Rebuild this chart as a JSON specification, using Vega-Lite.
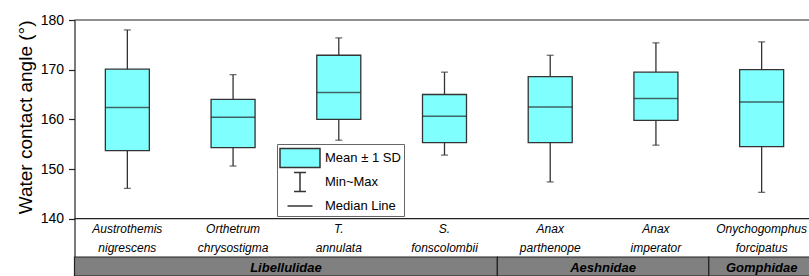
{
  "$schema": "https://vega.github.io/schema/vega-lite/v6.json",
  "autosize": {"type": "none"},
  "padding": {"left": 74.5, "top": 20, "right": 0, "bottom": 0},
  "width": 735,
  "height": 256,
  "background": "white",
  "config": {"font": "Liberation Sans", "view": {"stroke": null}},
  "datasets": {
    "boxes": [
      {"species": "Austrothemis nigrescens", "min": 146.1, "sd_low": 153.7, "median": 162.4, "sd_high": 170.1, "max": 178.0},
      {"species": "Orthetrum chrysostigma", "min": 150.6, "sd_low": 154.3, "median": 160.4, "sd_high": 164.0, "max": 169.0},
      {"species": "T. annulata", "min": 155.8, "sd_low": 160.0, "median": 165.4, "sd_high": 172.9, "max": 176.4},
      {"species": "S. fonscolombii", "min": 152.8, "sd_low": 155.3, "median": 160.6, "sd_high": 165.0, "max": 169.5},
      {"species": "Anax parthenope", "min": 147.4, "sd_low": 155.3, "median": 162.5, "sd_high": 168.6, "max": 172.9},
      {"species": "Anax imperator", "min": 154.8, "sd_low": 159.8, "median": 164.2, "sd_high": 169.5, "max": 175.4},
      {"species": "Onychogomphus forcipatus", "min": 145.3, "sd_low": 154.5, "median": 163.5, "sd_high": 170.0, "max": 175.6}
    ],
    "families": [
      {"family": "Libellulidae", "first": "Austrothemis nigrescens", "last": "S. fonscolombii"},
      {"family": "Aeshnidae", "first": "Anax parthenope", "last": "Anax imperator"},
      {"family": "Gomphidae", "first": "Onychogomphus forcipatus", "last": "Onychogomphus forcipatus"}
    ]
  },
  "layer": [
    {
      "data": {"name": "boxes"},
      "mark": {"type": "rule", "stroke": "#333", "strokeWidth": 1.3},
      "encoding": {
        "x": {
          "field": "species", "type": "nominal",
          "scale": {
            "domain": ["Austrothemis nigrescens", "Orthetrum chrysostigma", "T. annulata", "S. fonscolombii", "Anax parthenope", "Anax imperator", "Onychogomphus forcipatus"],
            "range": [0, 740], "paddingInner": 0, "paddingOuter": 0
          },
          "axis": null
        },
        "y": {
          "field": "min", "type": "quantitative",
          "scale": {"domain": [128.46, 180], "nice": false, "zero": false},
          "axis": {
            "title": "Water contact angle (°)",
            "values": [140, 145, 150, 155, 160, 165, 170, 175, 180],
            "labelExpr": "datum.value % 10 === 0 ? datum.label : ''",
            "tickSize": {"condition": {"test": "datum.value % 10 !== 0", "value": 3}, "value": 6},
            "grid": false,
            "domainColor": "#222",
            "domainWidth": 1.2,
            "tickColor": "#222",
            "tickWidth": 1.2,
            "labelFontSize": 14,
            "labelColor": "#000",
            "labelPadding": 5,
            "titleFontSize": 19,
            "titleFontWeight": "normal",
            "titleColor": "#000",
            "titleAnchor": "end",
            "titlePadding": 5
          }
        },
        "y2": {"field": "max"}
      }
    },
    {
      "data": {"name": "boxes"},
      "mark": {"type": "tick", "color": "#333", "size": 7, "thickness": 1.3},
      "encoding": {
        "x": {"field": "species", "type": "nominal"},
        "y": {"field": "max", "type": "quantitative"}
      }
    },
    {
      "data": {"name": "boxes"},
      "mark": {"type": "tick", "color": "#333", "size": 7, "thickness": 1.3},
      "encoding": {
        "x": {"field": "species", "type": "nominal"},
        "y": {"field": "min", "type": "quantitative"}
      }
    },
    {
      "data": {"name": "boxes"},
      "mark": {"type": "bar", "size": 44, "fill": "#80FFFF", "stroke": "#333", "strokeWidth": 1.3},
      "encoding": {
        "x": {"field": "species", "type": "nominal"},
        "y": {"field": "sd_low", "type": "quantitative"},
        "y2": {"field": "sd_high"}
      }
    },
    {
      "data": {"name": "boxes"},
      "mark": {"type": "tick", "color": "#222", "size": 44, "thickness": 1.5},
      "encoding": {
        "x": {"field": "species", "type": "nominal"},
        "y": {"field": "median", "type": "quantitative"}
      }
    },
    {
      "data": {"name": "boxes"},
      "mark": {"type": "text", "fontSize": 12, "fontStyle": "italic", "color": "#000", "baseline": "middle", "align": "center", "lineBreak": " ", "lineHeight": 19},
      "encoding": {
        "x": {"field": "species", "type": "nominal"},
        "y": {"datum": 137.93},
        "text": {"field": "species"}
      }
    },
    {
      "data": {"values": [{}]},
      "mark": {"type": "rule", "stroke": "#222", "strokeWidth": 1.2},
      "encoding": {"y": {"datum": 180}}
    },
    {
      "data": {"values": [{}]},
      "mark": {"type": "rule", "stroke": "#222", "strokeWidth": 1.2},
      "encoding": {"y": {"datum": 140}}
    },
    {
      "data": {"name": "families"},
      "mark": {"type": "rect", "fill": "#808080", "stroke": "#222", "strokeWidth": 1.2},
      "encoding": {
        "x": {"field": "first", "type": "nominal", "bandPosition": 0},
        "x2": {"field": "last", "bandPosition": 1},
        "y": {"datum": 132.29},
        "y2": {"datum": 128.46}
      }
    },
    {
      "data": {"name": "families"},
      "transform": [{"filter": "datum.family === 'Libellulidae'"}],
      "mark": {"type": "text", "fontSize": 13, "fontStyle": "italic", "fontWeight": "bold", "color": "#000", "baseline": "middle", "align": "center"},
      "encoding": {
        "x": {"datum": "T. annulata", "type": "nominal", "bandPosition": 0},
        "y": {"datum": 130.07},
        "text": {"field": "family"}
      }
    },
    {
      "data": {"name": "families"},
      "transform": [{"filter": "datum.family === 'Aeshnidae'"}],
      "mark": {"type": "text", "fontSize": 13, "fontStyle": "italic", "fontWeight": "bold", "color": "#000", "baseline": "middle", "align": "center"},
      "encoding": {
        "x": {"field": "first", "type": "nominal", "bandPosition": 1},
        "y": {"datum": 130.07},
        "text": {"field": "family"}
      }
    },
    {
      "data": {"name": "families"},
      "transform": [{"filter": "datum.family === 'Gomphidae'"}],
      "mark": {"type": "text", "fontSize": 13, "fontStyle": "italic", "fontWeight": "bold", "color": "#000", "baseline": "middle", "align": "center"},
      "encoding": {
        "x": {"field": "first", "type": "nominal", "bandPosition": 0.5},
        "y": {"datum": 130.07},
        "text": {"field": "family"}
      }
    },
    {
      "data": {"values": []},
      "mark": {"type": "point", "filled": true, "fill": "#80FFFF", "stroke": "#333", "strokeWidth": 1.3, "size": 400, "opacity": 1},
      "encoding": {
        "shape": {
          "field": "part", "type": "nominal",
          "scale": {
            "domain": ["Mean ± 1 SD", "Min~Max", "Median Line"],
            "range": ["M-2,-0.95H2V0.95H-2Z", "M-0.6,-0.95H0.6M0,-0.95V0.95M-0.6,0.95H0.6", "M-1.25,0H1.25"]
          },
          "legend": {
            "title": null,
            "orient": "none",
            "legendX": 202.5,
            "legendY": 124,
            "padding": 3,
            "symbolSize": 400,
            "symbolOffset": 9,
            "labelOffset": 14,
            "labelFontSize": 13,
            "labelColor": "#000",
            "strokeColor": "#666",
            "fillColor": "white",
            "rowPadding": -5,
            "encode": {
              "symbols": {
                "update": {
                  "fill": {"value": "#80FFFF"},
                  "stroke": {"value": "#333"},
                  "strokeWidth": {"value": 1.3},
                  "opacity": {"value": 1}
                }
              }
            }
          }
        }
      }
    }
  ]
}
